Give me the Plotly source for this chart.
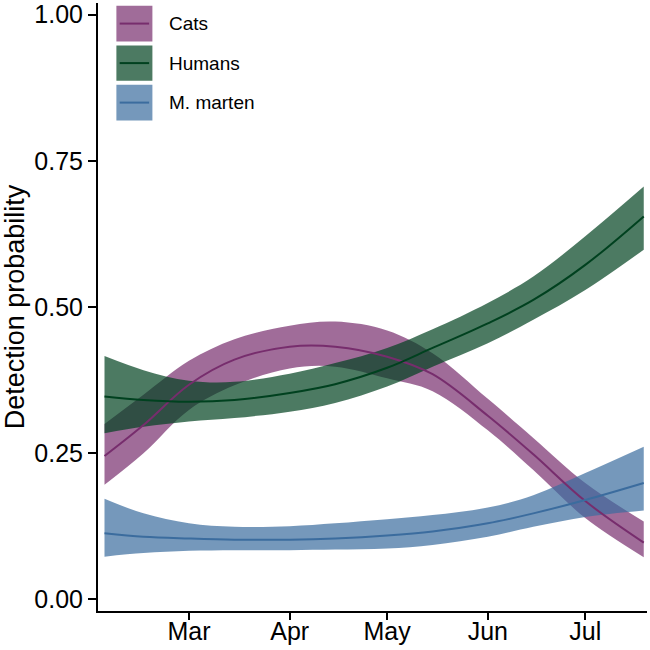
import plotly.graph_objects as go

# ---- data ----
dates = ["2023-02-03", "2023-02-15", "2023-03-01", "2023-03-15", "2023-04-01", "2023-04-15",
         "2023-05-01", "2023-05-15", "2023-06-01", "2023-06-15", "2023-07-01", "2023-07-19"]

cats_mean = [0.245, 0.298, 0.367, 0.410, 0.432, 0.432, 0.415, 0.385, 0.314, 0.248, 0.168, 0.097]
cats_lo   = [0.196, 0.250, 0.324, 0.366, 0.395, 0.398, 0.378, 0.356, 0.289, 0.221, 0.139, 0.072]
cats_hi   = [0.300, 0.350, 0.408, 0.445, 0.468, 0.475, 0.460, 0.421, 0.343, 0.276, 0.199, 0.133]

hum_mean = [0.347, 0.341, 0.338, 0.341, 0.353, 0.368, 0.396, 0.430, 0.472, 0.512, 0.572, 0.655]
hum_lo   = [0.284, 0.295, 0.304, 0.310, 0.321, 0.336, 0.364, 0.398, 0.438, 0.478, 0.529, 0.598]
hum_hi   = [0.416, 0.392, 0.374, 0.372, 0.386, 0.404, 0.430, 0.462, 0.507, 0.552, 0.621, 0.706]

mar_mean = [0.113, 0.107, 0.104, 0.102, 0.102, 0.104, 0.109, 0.116, 0.130, 0.147, 0.170, 0.199]
mar_lo   = [0.073, 0.079, 0.083, 0.084, 0.084, 0.085, 0.087, 0.093, 0.107, 0.124, 0.141, 0.152]
mar_hi   = [0.172, 0.147, 0.130, 0.124, 0.125, 0.130, 0.137, 0.144, 0.157, 0.178, 0.216, 0.261]

series_names = ["Cats", "Humans", "M. marten"]
line_colors = ["#772D6D", "#00411F", "#3B6C9E"]
fill_colors = ["rgba(119,45,109,0.7)", "rgba(0,65,31,0.7)", "rgba(59,108,158,0.7)"]

tick_dates = ["2023-03-01", "2023-04-01", "2023-05-01", "2023-06-01", "2023-07-01"]
tick_text = ["Mar", "Apr", "May", "Jun", "Jul"]
y_ticks = [0, 0.25, 0.5, 0.75, 1.0]
y_text = ["0.00", "0.25", "0.50", "0.75", "1.00"]

FONT = "Liberation Sans, Arial, sans-serif"

means = [cats_mean, hum_mean, mar_mean]
los = [cats_lo, hum_lo, mar_lo]
his = [cats_hi, hum_hi, mar_hi]

fig = go.Figure()

# ribbons
for name, lo, hi, fc in zip(series_names, los, his, fill_colors):
    fig.add_trace(go.Scatter(x=dates, y=lo, mode="lines", line=dict(width=0, shape="spline"),
                             hoverinfo="skip", showlegend=False))
    fig.add_trace(go.Scatter(x=dates, y=hi, mode="lines", line=dict(width=0, shape="spline"),
                             fill="tonexty", fillcolor=fc, hoverinfo="skip", showlegend=False,
                             name=name))

# mean lines
for name, m, lc in zip(series_names, means, line_colors):
    fig.add_trace(go.Scatter(x=dates, y=m, mode="lines", line=dict(width=2, color=lc, shape="spline"),
                             name=name, showlegend=False))

# manual legend (keys drawn in paper coordinates)
key_x0, key_x1 = 0.0335, 0.0991
key_rows = [(0.9955, 0.9368), (0.9302, 0.8721), (0.8656, 0.8068)]
for (ytop, ybot), name, lc, fc in zip(key_rows, series_names, line_colors, fill_colors):
    fig.add_shape(type="rect", xref="paper", yref="paper", x0=key_x0, x1=key_x1, y0=ybot, y1=ytop,
                  fillcolor=fc, line=dict(width=0), layer="above")
    ymid = (ytop + ybot) / 2
    fig.add_shape(type="line", xref="paper", yref="paper", x0=key_x0 + 0.006, x1=key_x1 - 0.006,
                  y0=ymid, y1=ymid, line=dict(color=lc, width=2), layer="above")
    fig.add_annotation(xref="paper", yref="paper", x=0.1258, y=ymid, text=name, showarrow=False,
                       xanchor="left", yanchor="middle", font=dict(family=FONT, size=19, color="black"))

fig.update_layout(
    width=650, height=650,
    margin=dict(l=98, r=3, t=3, b=39),
    plot_bgcolor="white", paper_bgcolor="white",
    font=dict(family=FONT, color="black"),
    showlegend=False,
    xaxis=dict(type="date", range=["2023-02-01", "2023-07-20"], tickvals=tick_dates, ticktext=tick_text,
               ticks="outside", ticklen=7, tickwidth=1.5, tickcolor="black",
               showline=True, linecolor="black", linewidth=2, showgrid=False, zeroline=False,
               tickfont=dict(family=FONT, size=25, color="black"), automargin=False,
               ticklabelstandoff=-10),
    yaxis=dict(range=[-0.02, 1.02], tickvals=y_ticks, ticktext=y_text,
               ticks="outside", ticklen=8, tickwidth=1.5, tickcolor="black",
               showline=True, linecolor="black", linewidth=2, showgrid=False, zeroline=False,
               tickfont=dict(family=FONT, size=25, color="black"), automargin=False,
               title=dict(text="Detection probability", font=dict(family=FONT, size=27, color="black"),
                          standoff=6)),
)

fig.write_html("out.html", config={"displayModeBar": False},
               post_script="document.body.style.margin='0px';")
